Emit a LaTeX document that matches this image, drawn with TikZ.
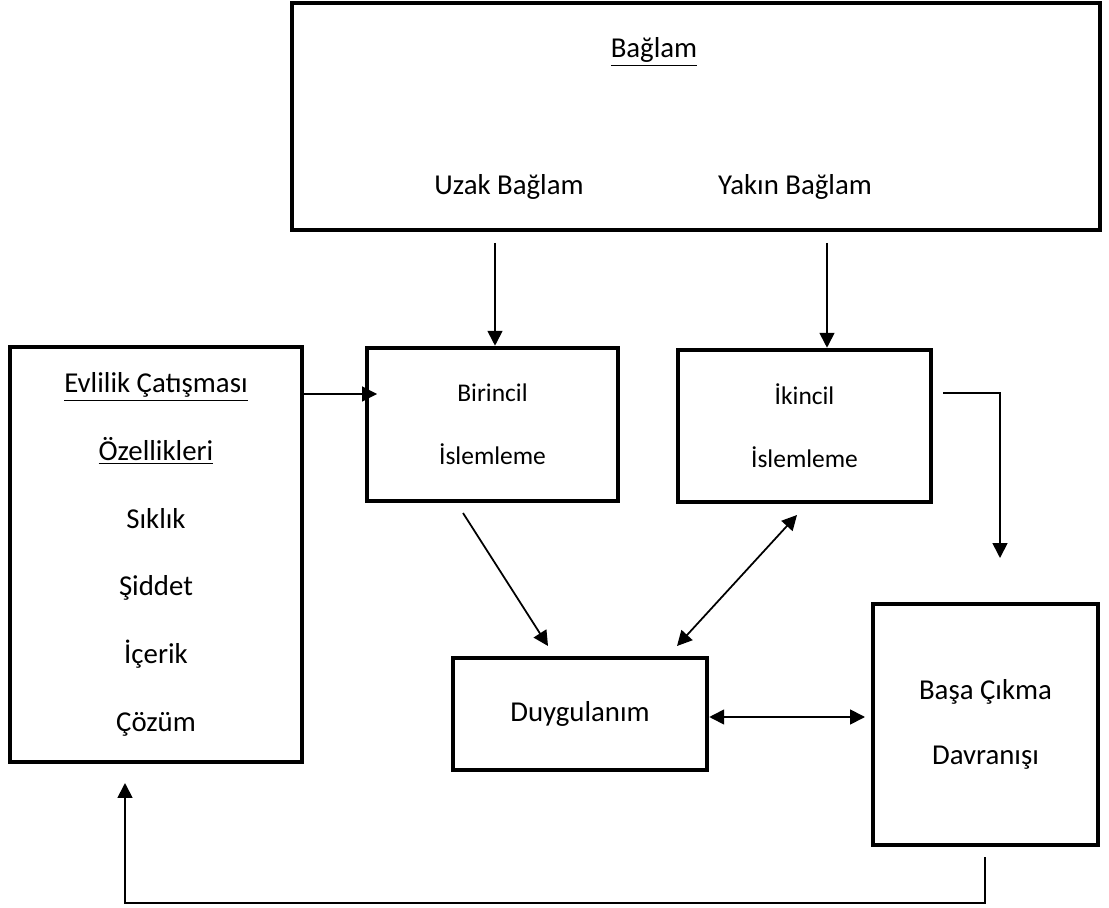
\documentclass[tikz,border=0pt]{standalone}
\usepackage{fontspec}
\setmainfont{Carlito}
\usetikzlibrary{arrows.meta}
\tikzset{
  kutu/.style={draw, line width=2.6pt, inner sep=0pt, align=center, font=\fontsize{16.4}{37}\selectfont},
  yazi/.style={font=\fontsize{16.4}{20}\selectfont},
  ok/.style={-{Triangle[length=8.5pt,width=8.5pt]}, line width=1pt},
  cift/.style={{Triangle[length=8.5pt,width=8.5pt]}-{Triangle[length=8.5pt,width=8.5pt]}, line width=1pt}
}
\begin{document}
\begin{tikzpicture}[x=0.02cm, y=-0.02cm]
    \useasboundingbox (0,0) rectangle (1109,908);
    % kutular
    \node[kutu, minimum width=16.16cm, minimum height=4.54cm] (ctx) at (696,116.5) {};
    \node[yazi] (t0) at (654,52) {\underline{Bağlam}};
    \node[yazi] (t1) at (509,187) {Uzak Bağlam};
    \node[yazi] (t2) at (795,187) {Yakın Bağlam};
    \node[kutu, minimum width=5.02cm, minimum height=3.06cm, font=\fontsize{14.5}{35.7}\selectfont] (p1) at (492.5,424.5) {Birincil\\ İslemleme};
    \node[kutu, minimum width=5.06cm, minimum height=3.04cm, font=\fontsize{14.5}{35.7}\selectfont] (p2) at (804.5,426) {İkincil\\ İslemleme};
    \node[kutu, minimum width=5.84cm, minimum height=8.3cm, font=\fontsize{16.4}{38.5}\selectfont] (mc) at (156,554.5)
        {\underline{Evlilik Çatışması}\\ \underline{Özellikleri}\\ Sıklık\\ Şiddet\\ İçerik\\ Çözüm};
    \node[kutu, minimum width=5.08cm, minimum height=2.24cm] (aff) at (580,714) {Duygulanım};
    \node[kutu, minimum width=4.5cm, minimum height=4.82cm] (cope) at (985.5,724.5) {Başa Çıkma\\ Davranışı};
    % oklar
    \coordinate (u1) at (495,243);
    \coordinate (u2) at (827,243);
    \draw[ok] (u1) -- (u1 |- p1.north);
    \draw[ok] (u2) -- (u2 |- p2.north);
    \coordinate (e1) at (302,394);
    \draw[ok, shorten >=-7pt] (e1) -- (e1 -| p1.west);
    \coordinate (b1) at (943,393);
    \coordinate (b2) at (1000,558);
    \draw[ok] (b1) -| (b2);
    \coordinate (d1) at (463,513);
    \coordinate (d2) at (548,646);
    \draw[ok] (d1) -- (d2);
    \coordinate (d3) at (797,515);
    \coordinate (d4) at (677,646);
    \draw[cift] (d4) -- (d3);
    \coordinate (h1) at (865,717);
    \draw[cift] (h1 -| aff.east) -- (h1);
    \coordinate (r1) at (985,857);
    \coordinate (r2) at (125,783);
    \coordinate (r3) at (125,903);
    \draw[ok] (r1) |- (r3) -- (r2);
\end{tikzpicture}
\end{document}
